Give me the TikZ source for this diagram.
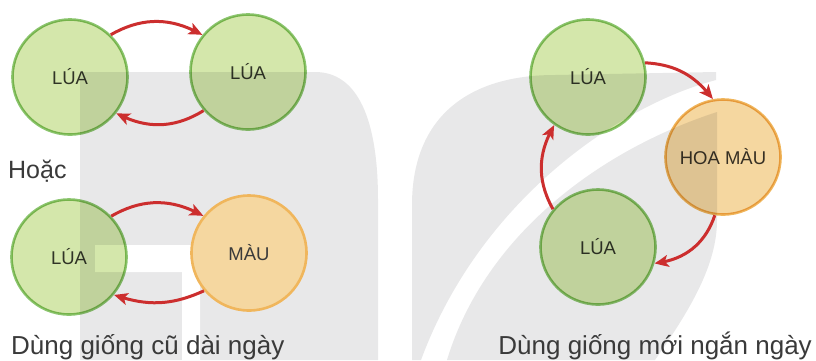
\documentclass[tikz,border=0pt]{standalone}
\usepackage{fontspec}
\setmainfont{Liberation Sans}
\usetikzlibrary{arrows.meta,bending}

\definecolor{wmgrey}{HTML}{E8E8E9}
\definecolor{ricefill}{HTML}{D4E7AB}
\definecolor{riceline}{HTML}{8DC670}
\definecolor{cropfill}{HTML}{F5D7A0}
\definecolor{cropline}{HTML}{F0B65C}
\definecolor{arrowred}{HTML}{CC2E2E}
\definecolor{txt}{HTML}{3A3A3A}

\begin{document}
\begin{tikzpicture}[x=1pt,y=-1pt,
  field/.style={circle, line width=2.6pt, minimum size=115pt, inner sep=0pt,
    text=txt, font=\fontsize{18.5}{20}\selectfont},
  rice/.style={field, fill=ricefill, draw=riceline},
  crop/.style={field, fill=cropfill, draw=cropline},
  turn/.style={draw=arrowred, line width=3pt,
    -{Stealth[length=14pt,width=12pt,inset=3.5pt,bend]}},
  caption/.style={inner sep=0pt, text=txt, font=\fontsize{26}{28}\selectfont}]

\useasboundingbox (0,0) rectangle (816,360);
\fill[white] (0,0) rectangle (816,360);

% light grey background marks
\fill[wmgrey] (80,72) -- (315,72) .. controls (358,72) and (378,120) .. (378,200)
  -- (378,360) -- (80,360) -- cycle;
\fill[white] (95,245) -- (200,245) -- (200,360) -- (182,360) -- (182,272)
  -- (95,272) -- cycle;
\fill[wmgrey] (412,360) -- (412,205) .. controls (412,120) and (465,75) .. (555,75)
  -- (716,72) -- (716,80) .. controls (620,105) and (480,200) .. (421,360) -- cycle;
\fill[wmgrey] (447,360) .. controls (485,235) and (600,150) .. (717,112)
  -- (717,220) .. controls (717,265) and (690,310) .. (655,360) -- cycle;

% fields
\begin{scope}[blend mode=multiply]
  \node[rice] (a1) at (70,77)  {LÚA};
  \node[rice] (b1) at (248,72) {LÚA};
  \node[rice] (a2) at (69,257) {LÚA};
  \node[rice] (c1) at (588,77)  {LÚA};
  \node[crop] (c2) at (723,157) {HOA MÀU};
  \node[rice] (c3) at (598,247) {LÚA};
\end{scope}
\node[crop] (b2) at (249,253) {MÀU};

% rotations
\draw[turn] (a1.46)  to[bend left=30] (b1.141);
\draw[turn] (b1.221) to[bend left=30] (a1.322);
\draw[turn] (a2.44)  to[bend left=30] (b2.141);
\draw[turn] (b2.220) to[bend left=22] (a2.320);
\draw[turn] (c1.14)  to[bend left=25] (c2.100);
\draw[turn] (c2.262) to[bend left=33] (c3.344);
\draw[turn] (c3.140) to[bend left=30] (c1.235);

% labels
\node[caption, anchor=base west, font=\fontsize{25}{27}\selectfont] (or) at (8,178) {Hoặc};
\node[caption, anchor=base west] (capL) at (11,354) {Dùng giống cũ dài ngày};
\node[caption, anchor=base east] (capR) at (812,354) {Dùng giống mới ngắn ngày};
\end{tikzpicture}
\end{document}
